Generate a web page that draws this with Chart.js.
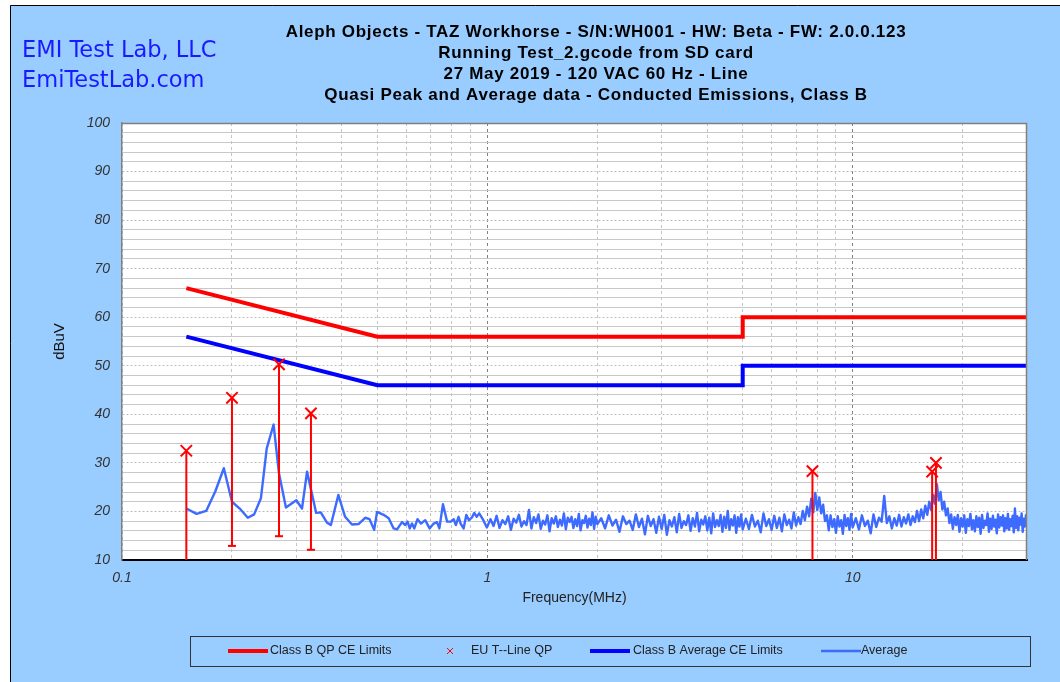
<!DOCTYPE html>
<html>
<head>
<meta charset="utf-8">
<script src="https://cdn.jsdelivr.net/npm/chart.js@4/dist/chart.umd.min.js"></script>
<style>
  html, body { margin: 0; padding: 0; background: #fff; }
  #wrap { width: 1060px; height: 682px; position: relative; }
</style>
</head>
<body>
<div id="wrap"><canvas id="emiChart"></canvas></div>
<script>
const FONT = '"Liberation Sans", Arial, sans-serif';

const titleLines = [
    "Aleph Objects - TAZ Workhorse - S/N:WH001 - HW: Beta - FW: 2.0.0.123",
    "Running Test_2.gcode from SD card",
    "27 May 2019 - 120 VAC 60 Hz - Line",
    "Quasi Peak and Average data - Conducted Emissions, Class B"
];
const companyLines = ["EMI Test Lab, LLC", "EmiTestLab.com"];

// limit lines (MHz / dBuV)
const limitFreq = [0.15, 0.5, 5, 5, 30];
const qpLimit = [66, 56, 56, 60, 60];
const avgLimit = [56, 46, 46, 50, 50];

// quasi peak readings, with the low end of each stem
const qpFreq = [0.15, 0.2, 0.269, 0.329, 7.76, 16.5, 16.9];
const qpValue = [32.5, 43.4, 50.3, 40.2, 28.3, 28.2, 30.0];
const qpLow = [0, 12.9, 14.9, 12.1, 0, 0, 0];

// average trace
const avgFreq = [
    0.150, 0.160, 0.170, 0.180, 0.190, 0.200, 0.210, 0.221, 0.230, 0.240,
    0.249, 0.260, 0.269, 0.281, 0.300, 0.311, 0.321, 0.340, 0.350, 0.364,
    0.373, 0.391, 0.408, 0.426, 0.444, 0.463, 0.476, 0.490, 0.499, 0.520,
    0.537, 0.554, 0.566, 0.584, 0.596, 0.605, 0.613, 0.622, 0.631, 0.644,
    0.658, 0.676, 0.695, 0.713, 0.728, 0.739, 0.756, 0.776, 0.795, 0.809,
    0.820, 0.834, 0.845, 0.861, 0.876, 0.890, 0.908, 0.921, 0.935, 0.950,
    0.975, 0.997,
    1.02, 1.04, 1.06, 1.08, 1.10, 1.12, 1.14, 1.16, 1.18, 1.20,
    1.22, 1.24, 1.26, 1.28, 1.30, 1.32, 1.34, 1.36, 1.38, 1.40,
    1.42, 1.44, 1.46, 1.48, 1.50, 1.52, 1.54, 1.56, 1.58, 1.60,
    1.62, 1.64, 1.66, 1.68, 1.70, 1.72, 1.74, 1.76, 1.78, 1.80,
    1.82, 1.84, 1.86, 1.88, 1.90, 1.92, 1.94, 1.96, 1.98, 2.00,
    2.05, 2.10, 2.15, 2.20, 2.25, 2.30, 2.35, 2.40, 2.45, 2.50,
    2.55, 2.60, 2.65, 2.70, 2.75, 2.80, 2.85, 2.90, 2.95, 3.00,
    3.05, 3.10, 3.15, 3.20, 3.25, 3.30, 3.35, 3.40, 3.45, 3.50,
    3.55, 3.60, 3.65, 3.70, 3.75, 3.80, 3.85, 3.90, 3.95, 4.00,
    4.05, 4.10, 4.15, 4.20, 4.25, 4.30, 4.35, 4.40, 4.45, 4.50,
    4.55, 4.60, 4.65, 4.70, 4.75, 4.80, 4.85, 4.90, 4.95, 5.00,
    5.1, 5.2, 5.3, 5.4, 5.5, 5.6, 5.7, 5.8, 5.9, 6.0,
    6.1, 6.2, 6.3, 6.4, 6.5, 6.6, 6.7, 6.8, 6.9, 7.0,
    7.1, 7.2, 7.3, 7.4, 7.5, 7.6, 7.7, 7.8, 7.9, 8.0,
    8.1, 8.2, 8.3, 8.4, 8.5, 8.6, 8.7, 8.8, 8.9, 9.0,
    9.1, 9.2, 9.3, 9.4, 9.5, 9.6, 9.7, 9.8, 9.9, 10.0,
    10.2, 10.4, 10.6, 10.8, 11.0, 11.2, 11.4, 11.6, 11.8, 12.0,
    12.2, 12.4, 12.6, 12.8, 13.0, 13.2, 13.4, 13.6, 13.8, 14.0,
    14.2, 14.4, 14.6, 14.8, 15.0, 15.2, 15.4, 15.6, 15.8, 16.0,
    16.2, 16.4, 16.6, 16.8, 17.0, 17.2, 17.4, 17.6, 17.8, 18.0,
    18.2, 18.4, 18.6, 18.8, 19.0, 19.2, 19.4, 19.6, 19.8, 20.0,
    20.2, 20.4, 20.6, 20.8, 21.0, 21.2, 21.4, 21.6, 21.8, 22.0,
    22.2, 22.4, 22.6, 22.8, 23.0, 23.2, 23.4, 23.6, 23.8, 24.0,
    24.2, 24.4, 24.6, 24.8, 25.0, 25.2, 25.4, 25.6, 25.8, 26.0,
    26.2, 26.4, 26.6, 26.8, 27.0, 27.2, 27.4, 27.6, 27.8, 28.0,
    28.2, 28.4, 28.6, 28.8, 29.0, 29.2, 29.4, 29.6, 29.8, 30.0
];
const avgValue = [
    20.6, 19.5, 20.1, 24.1, 28.9, 22.0, 20.6, 18.7, 19.4, 22.7,
    33.0, 37.9, 27.8, 20.8, 22.3, 20.6, 28.2, 19.7, 19.8, 17.7,
    17.2, 23.4, 18.9, 17.3, 17.4, 18.7, 18.4, 16.2, 19.9, 19.3,
    18.6, 16.5, 16.3, 17.8, 17.2, 17.9, 16.5, 17.5, 16.5, 18.4,
    17.5, 18.2, 16.5, 17.5, 17.8, 16.5, 21.5, 17.9, 17.9, 18.4,
    17.2, 18.9, 17.5, 16.5, 19.3, 18.2, 18.8, 19.7, 18.9, 19.6,
    18.2, 16.7,
    18.4, 17.0, 19.1, 16.6, 18.2, 17.4, 19.0, 16.2, 18.5, 17.7,
    19.3, 16.9, 18.0, 17.2, 20.3, 16.5, 18.8, 17.6, 19.4, 16.4,
    18.1, 17.3, 19.2, 15.9, 18.6, 17.5, 19.0, 16.8, 18.3, 17.1,
    19.6, 16.3, 18.7, 17.8, 18.9, 16.6, 18.4, 17.0, 19.5, 16.1,
    18.2, 17.6, 19.1, 16.7, 18.5, 17.2, 19.8, 16.4, 18.9, 17.4,
    18.6, 16.5, 19.2, 17.1, 18.3, 15.8, 19.0, 17.4, 18.1, 16.2,
    19.4, 16.8, 18.5, 15.3, 19.1, 17.0, 18.4, 15.6, 18.9, 16.4,
    19.3, 15.2, 18.2, 16.9, 18.8, 15.7, 19.5, 16.6, 18.0, 17.2,
    19.2, 16.0, 18.6, 16.9, 19.7, 15.9, 18.3, 17.3, 19.0, 16.1,
    18.7, 15.5, 19.6, 16.8, 18.2, 17.0, 19.3, 15.8, 18.9, 16.6,
    20.1, 16.2, 18.4, 17.1, 19.2, 15.6, 18.8, 16.9, 19.4, 16.3,
    18.5, 16.4, 19.3, 16.9, 18.1, 15.7, 19.6, 17.0, 18.4, 16.2,
    19.1, 16.6, 18.7, 15.9, 19.4, 17.2, 18.3, 16.5, 19.8, 17.1,
    18.8, 17.4, 20.1, 18.2, 21.0, 19.0, 22.6, 19.8, 23.8, 20.3,
    22.9, 19.6, 21.4, 18.0, 19.2, 16.1, 19.2, 16.8, 18.4, 15.6,
    19.0, 16.9, 18.2, 15.4, 19.3, 17.0, 18.6, 16.2, 19.5, 16.7,
    18.6, 16.3, 19.2, 17.0, 18.1, 15.5, 19.4, 16.8, 18.7, 17.9,
    23.2, 17.6, 19.0, 16.5, 18.6, 17.1, 19.3, 16.9, 18.8, 17.5,
    19.4, 17.2, 19.0, 17.8, 20.1, 18.0, 20.4, 18.6, 21.2, 19.3,
    22.0, 20.3, 23.4, 21.6, 25.6, 22.3, 24.0, 20.4, 22.0, 19.2,
    20.6, 17.6, 19.4, 16.4, 18.8, 17.2, 19.3, 15.8, 18.6, 16.9,
    19.2, 15.6, 18.4, 17.0, 19.5, 16.3, 18.2, 15.9, 19.0, 16.8,
    18.7, 15.4, 19.3, 16.6, 18.1, 17.2, 19.6, 15.8, 18.5, 16.4,
    19.1, 16.9, 18.3, 15.5, 19.4, 16.7, 18.8, 17.1, 19.2, 15.9,
    18.6, 16.5, 19.5, 16.2, 18.4, 17.0, 19.1, 15.7, 20.6, 16.6,
    19.0, 16.1, 18.7, 17.3, 19.6, 15.8, 18.5, 16.9, 19.2, 17.4
];

// axis ticks
const xGridValues = [0.1, 0.2, 0.3, 0.4, 0.5, 0.6, 0.7, 0.8, 0.9,
    1, 2, 3, 4, 5, 6, 7, 8, 9, 10, 20, 30];
const xLabelValues = [0.1, 1, 10];

const toPoints = (xs, ys) => xs.map((x, i) => ({ x: x, y: ys[i] }));

const stemData = [];
qpFreq.forEach((f, i) => {
    stemData.push({ x: f, y: qpValue[i] }, { x: f, y: qpLow[i] }, { x: f, y: null });
});

const chartFrame = {
    id: "chartFrame",
    beforeDraw(chart) {
        const { ctx, chartArea: a } = chart;
        ctx.save();
        ctx.fillStyle = "#ffffff";
        ctx.fillRect(0, 0, chart.width, chart.height);
        ctx.fillStyle = "#99ccff";
        ctx.fillRect(10, 5, chart.width, chart.height);
        ctx.strokeStyle = "#000";
        ctx.lineWidth = 1;
        ctx.beginPath();
        ctx.moveTo(10.5, chart.height);
        ctx.lineTo(10.5, 5.5);
        ctx.lineTo(chart.width, 5.5);
        ctx.stroke();
        ctx.fillStyle = "#ffffff";
        ctx.fillRect(a.left, a.top, a.width, a.height);
        ctx.restore();
    },
    afterDraw(chart) {
        const { ctx, chartArea: a } = chart;
        ctx.save();

        // top and right edge of the plot
        ctx.strokeStyle = "#808080";
        ctx.lineWidth = 1.5;
        ctx.beginPath();
        ctx.moveTo(a.left, a.top + 0.5);
        ctx.lineTo(a.right - 0.5, a.top + 0.5);
        ctx.lineTo(a.right - 0.5, a.bottom);
        ctx.stroke();

        // title
        ctx.fillStyle = "#000";
        ctx.font = "bold 17px " + FONT;
        ctx.letterSpacing = "0.7px";
        ctx.textAlign = "center";
        ctx.textBaseline = "middle";
        titleLines.forEach((t, i) => ctx.fillText(t, 596, 32 + i * 21));
        ctx.letterSpacing = "0px";

        // company text
        ctx.fillStyle = "#1a1aff";
        ctx.font = '22.5px "DejaVu Sans", sans-serif';
        ctx.textAlign = "left";
        companyLines.forEach((t, i) => ctx.fillText(t, 22, 51 + i * 30));

        // legend
        ctx.strokeStyle = "#333";
        ctx.lineWidth = 1;
        ctx.strokeRect(190.5, 636.5, 840, 30);
        const ly = 651;
        const ds = chart.data.datasets;
        const items = [
            { d: ds[2], x: 228, tx: 270 },
            { d: ds[1], x: 450, tx: 471, marker: true },
            { d: ds[3], x: 590, tx: 633 },
            { d: ds[4], x: 821, tx: 861 }
        ];
        ctx.font = "12.5px " + FONT;
        items.forEach(it => {
            ctx.strokeStyle = it.d.borderColor;
            ctx.beginPath();
            if (it.marker) {
                ctx.lineWidth = 1;
                ctx.moveTo(it.x - 3, ly - 3);
                ctx.lineTo(it.x + 3, ly + 3);
                ctx.moveTo(it.x + 3, ly - 3);
                ctx.lineTo(it.x - 3, ly + 3);
            } else {
                ctx.lineWidth = it.d.borderWidth;
                ctx.moveTo(it.x, ly);
                ctx.lineTo(it.x + 40, ly);
            }
            ctx.stroke();
            ctx.fillStyle = "#222";
            ctx.fillText(it.d.label, it.tx, ly);
        });
        ctx.restore();
    }
};

new Chart(document.getElementById("emiChart"), {
    type: "line",
    data: {
        datasets: [
            {
                label: "stems",
                data: stemData,
                borderColor: "#ff0000",
                borderWidth: 2,
                spanGaps: false,
                pointStyle: "line",
                pointBorderColor: "#ff0000",
                pointBorderWidth: 2,
                pointRadius: c => (c.dataIndex % 3 === 1 && qpLow[Math.floor(c.dataIndex / 3)] > 10) ? 4 : 0,
                order: 0
            },
            {
                label: "EU T--Line QP",
                data: toPoints(qpFreq, qpValue),
                showLine: false,
                borderColor: "#ff0000",
                pointStyle: "crossRot",
                pointRadius: 8,
                pointBorderWidth: 2,
                pointBorderColor: "#ff0000",
                order: 0
            },
            {
                label: "Class B QP CE Limits",
                data: toPoints(limitFreq, qpLimit),
                borderColor: "#ff0000",
                borderWidth: 4,
                pointRadius: 0,
                order: 2
            },
            {
                label: "Class B Average CE Limits",
                data: toPoints(limitFreq, avgLimit),
                borderColor: "#0000ff",
                borderWidth: 4,
                pointRadius: 0,
                order: 2
            },
            {
                label: "Average",
                data: toPoints(avgFreq, avgValue),
                borderColor: "#3d6bff",
                borderWidth: 2.4,
                borderJoinStyle: "round",
                pointRadius: 0,
                order: 3
            }
        ]
    },
    options: {
        responsive: true,
        maintainAspectRatio: false,
        animation: false,
        events: [],
        layout: { padding: { left: 0, top: 123, right: 33, bottom: 72 } },
        plugins: {
            legend: { display: false },
            title: { display: false },
            tooltip: { enabled: false }
        },
        scales: {
            x: {
                type: "logarithmic",
                min: 0.1,
                max: 30,
                afterBuildTicks: s => { s.ticks = xGridValues.map(v => ({ value: v })); },
                afterFit: s => { s.height = 50; },
                ticks: {
                    autoSkip: false,
                    maxRotation: 0,
                    padding: 10,
                    color: "#333",
                    font: { family: FONT, size: 14, style: "italic" },
                    callback: v => xLabelValues.includes(v) ? String(v) : ""
                },
                grid: {
                    drawTicks: false,
                    lineWidth: 1,
                    color: c => (c.tick && (c.tick.value === 1 || c.tick.value === 10)) ? "#808080" : "#c4c4c4"
                },
                border: { color: "#000", width: 2, dash: c => c.tick ? [3, 3] : [] },
                title: {
                    display: true,
                    text: "Frequency(MHz)",
                    color: "#222",
                    font: { family: FONT, size: 14 },
                    padding: { top: 0, bottom: 3 }
                }
            },
            y: {
                min: 10,
                max: 100,
                afterFit: s => { s.width = 122; },
                ticks: {
                    stepSize: 2,
                    autoSkip: false,
                    padding: 12,
                    color: "#333",
                    font: { family: FONT, size: 14, style: "italic" },
                    callback: v => v % 10 === 0 ? String(v) : ""
                },
                grid: {
                    drawTicks: false,
                    lineWidth: 1,
                    color: c => (c.tick && c.tick.value % 10 === 0) ? "#bdbdbd" : "#c8c8c8"
                },
                border: { color: "#808080", width: 1.5, dash: c => (c.tick && c.tick.value % 10 === 0) ? [2, 2] : [] },
                title: {
                    display: true,
                    text: "dBuV",
                    color: "#111",
                    font: { family: FONT, size: 15 },
                    padding: { top: 51, bottom: 0 }
                }
            }
        }
    },
    plugins: [chartFrame]
});
</script>
</body>
</html>
